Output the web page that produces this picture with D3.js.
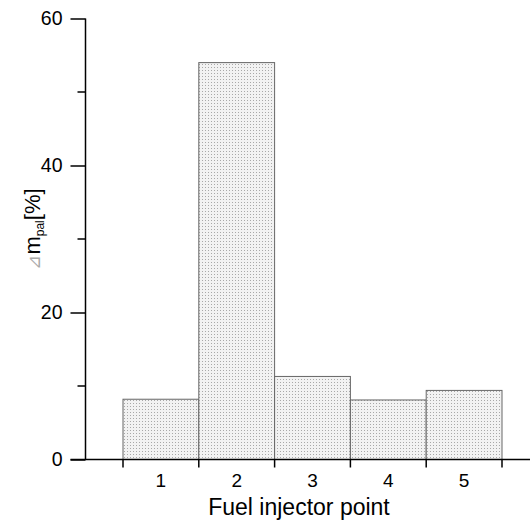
<!DOCTYPE html>
<html><head><meta charset="utf-8">
<script src="https://cdn.jsdelivr.net/npm/d3@7"></script>
<style>body{margin:0;background:#fff}svg{display:block;font-family:"Liberation Sans",Arial,sans-serif}</style>
</head><body>
<script>
const categories = ["1", "2", "3", "4", "5"];
const values = [8.2, 54.0, 11.3, 8.1, 9.4];
const yMajorTicks = [0, 20, 40, 60];
const yMinorTicks = [10, 30, 50];
const xTitle = "Fuel injector point";

const W = 530, H = 522;
const svg = d3.select("body").append("svg").attr("width", W).attr("height", H);
const defs = svg.append("defs");
const pat = defs.append("pattern").attr("id", "dots").attr("patternUnits", "userSpaceOnUse")
  .attr("width", 3).attr("height", 3);
pat.append("rect").attr("width", 3).attr("height", 3).attr("fill", "#f2f2f2");
pat.append("rect").attr("x", 1).attr("y", 1).attr("width", 1).attr("height", 1).attr("fill", "#a8a8a8");

const axisX = 85.5, y0 = 459.5;
const y = d3.scaleLinear().domain([0, 60]).range([y0, 18.5]);
const x = d3.scaleBand().domain(categories).range([123, 502]).padding(0);

// bars
svg.append("g").selectAll("rect").data(values).join("rect")
  .attr("x", (d, i) => x(categories[i]))
  .attr("y", d => y(d))
  .attr("width", x.bandwidth())
  .attr("height", d => y0 - y(d))
  .attr("fill", "url(#dots)")
  .attr("stroke", "#666").attr("stroke-width", 1);

// y axis
const gy = svg.append("g").attr("transform", `translate(${axisX},0)`);
gy.call(d3.axisLeft(y).tickValues(yMajorTicks).tickSize(15).tickPadding(8).tickFormat(d3.format("d")));
gy.select(".domain").attr("stroke", "#000").attr("stroke-width", 1.5).attr("d", `M0,${y(60)}V${y0}`);
gy.selectAll(".tick line").attr("stroke", "#000").attr("stroke-width", 1.5);
gy.selectAll(".tick text").attr("font-size", 19.5).attr("fill", "#000").attr("font-family", "Liberation Sans, Arial, sans-serif");
gy.selectAll(".minor").data(yMinorTicks).join("line").attr("class", "minor")
  .attr("x1", -8).attr("x2", 0).attr("y1", d => y(d)).attr("y2", d => y(d))
  .attr("stroke", "#000").attr("stroke-width", 1.5);

// x axis
const gx = svg.append("g").attr("transform", `translate(0,${y0})`);
gx.append("line").attr("x1", axisX - 15).attr("x2", 530).attr("y1", 0).attr("y2", 0)
  .attr("stroke", "#000").attr("stroke-width", 1.5);
const edges = categories.map(c => x(c)).concat([x(categories[categories.length - 1]) + x.bandwidth()]);
gx.selectAll(".xt").data(edges).join("line").attr("class", "xt")
  .attr("x1", d => d).attr("x2", d => d).attr("y1", 0).attr("y2", 8)
  .attr("stroke", "#000").attr("stroke-width", 1.5);
gx.selectAll(".xl").data(categories).join("text").attr("class", "xl")
  .attr("x", d => x(d) + x.bandwidth() / 2).attr("y", 27)
  .attr("text-anchor", "middle").attr("font-size", 19).text(d => d);

svg.append("text").attr("x", 299).attr("y", 515).attr("text-anchor", "middle")
  .attr("font-size", 23).text(xTitle);

// y title
const yt = svg.append("text").attr("transform", "translate(40,229) rotate(-90)")
  .attr("text-anchor", "middle").attr("font-size", 22);
yt.append("tspan").attr("fill", "#aaa").attr("font-size", 18).text("⊿");
yt.append("tspan").text("m");
yt.append("tspan").attr("font-size", 12).attr("dy", 4).text("pal");
yt.append("tspan").attr("dy", -4).text("[%]");
</script>
</body></html>
